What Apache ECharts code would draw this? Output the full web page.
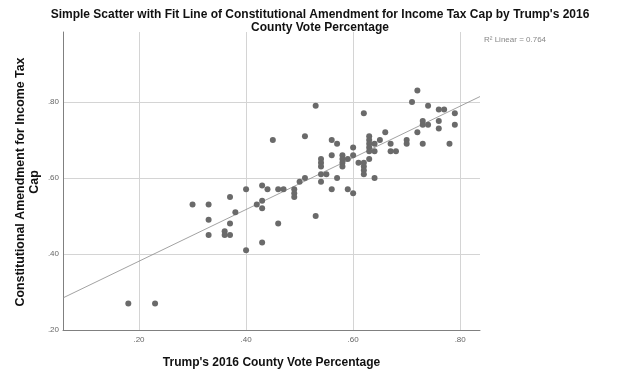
<!DOCTYPE html>
<html>
<head>
<meta charset="utf-8">
<script src="https://cdn.jsdelivr.net/npm/echarts@6/dist/echarts.min.js"></script>
<style>
  html, body { margin: 0; padding: 0; background: #fff; }
  #chart { width: 640px; height: 377px; }
</style>
</head>
<body>
<div id="chart"></div>
<script>
// county points: [trump vote share, amendment yes share]
const points = [
  [0.18, 0.27], [0.23, 0.27],
  [0.30, 0.53], [0.33, 0.53], [0.33, 0.49], [0.33, 0.45],
  [0.37, 0.55], [0.38, 0.51], [0.37, 0.48], [0.36, 0.46], [0.36, 0.45], [0.37, 0.45],
  [0.40, 0.57], [0.40, 0.41], [0.42, 0.53], [0.43, 0.58], [0.44, 0.57], [0.43, 0.54],
  [0.43, 0.52], [0.43, 0.43],
  [0.45, 0.70], [0.46, 0.57], [0.47, 0.57], [0.46, 0.48],
  [0.49, 0.57], [0.49, 0.56], [0.49, 0.55], [0.50, 0.59], [0.51, 0.60], [0.51, 0.71],
  [0.53, 0.79], [0.53, 0.50],
  [0.54, 0.65], [0.54, 0.64], [0.54, 0.63], [0.54, 0.61], [0.54, 0.59], [0.55, 0.61],
  [0.56, 0.70], [0.57, 0.69], [0.56, 0.66], [0.56, 0.57], [0.57, 0.60],
  [0.58, 0.66], [0.58, 0.65], [0.58, 0.64], [0.58, 0.63], [0.59, 0.65], [0.59, 0.57],
  [0.60, 0.68], [0.60, 0.66], [0.60, 0.56], [0.61, 0.64],
  [0.62, 0.77], [0.62, 0.64], [0.62, 0.63], [0.62, 0.62], [0.62, 0.61],
  [0.63, 0.71], [0.63, 0.70], [0.63, 0.69], [0.63, 0.68], [0.63, 0.67], [0.63, 0.65],
  [0.64, 0.69], [0.64, 0.67], [0.64, 0.60], [0.65, 0.70], [0.66, 0.72],
  [0.67, 0.69], [0.67, 0.67], [0.68, 0.67],
  [0.70, 0.70], [0.70, 0.69], [0.71, 0.80], [0.72, 0.83], [0.72, 0.72],
  [0.73, 0.75], [0.73, 0.74], [0.73, 0.69], [0.74, 0.79], [0.74, 0.74],
  [0.76, 0.78], [0.77, 0.78], [0.76, 0.75], [0.76, 0.73], [0.78, 0.69], [0.79, 0.77], [0.79, 0.74]
];

const xTicks = [0.2, 0.4, 0.6, 0.8];
const yTicks = [0.2, 0.4, 0.6, 0.8];
const xRange = [0.058, 0.837];
const yRange = [0.2, 0.984];

// linear fit
const fitIntercept = 0.245;
const fitSlope = 0.68;
const rSquared = "0.764";

const fitLine = xRange.map((x) => [x, fitIntercept + fitSlope * x]);

const fmt = (v) => v.toFixed(2).replace(/^0/, "");
const FONT = "Liberation Sans";

const chart = echarts.init(document.getElementById("chart"));

chart.setOption({
  animation: false,
  title: {
    text: "Simple Scatter with Fit Line of Constitutional Amendment for Income Tax Cap by Trump's 2016\nCounty Vote Percentage",
    left: "center",
    top: 3,
    textStyle: { fontFamily: FONT, fontWeight: "bold", fontSize: 12, lineHeight: 13, color: "#111" },
  },
  graphic: [
    {
      type: "text",
      left: 484,
      top: 36,
      style: { text: "R\u00b2 Linear = " + rSquared, fontFamily: FONT, fontSize: 8, fill: "#888" },
    },
    {
      // y axis title, drawn by hand so it can sit closer to the labels
      type: "text",
      x: 28,
      y: 182,
      rotation: Math.PI / 2,
      style: {
        text: "Constitutional Amendment for Income Tax\nCap",
        align: "center",
        verticalAlign: "middle",
        fontFamily: FONT,
        fontWeight: "bold",
        fontSize: 12.4,
        lineHeight: 14,
        fill: "#111",
      },
    },
  ],
  grid: { left: 63, right: 160, top: 32, bottom: 47, containLabel: false },
  xAxis: {
    type: "value",
    min: xRange[0],
    max: xRange[1],
    name: "Trump's 2016 County Vote Percentage",
    nameLocation: "middle",
    nameGap: 27,
    nameTextStyle: { fontFamily: FONT, fontWeight: "bold", fontSize: 12, color: "#111" },
    axisLine: { show: true, lineStyle: { color: "#808080", width: 1 } },
    axisTick: { show: false, customValues: xTicks },
    axisLabel: {
      customValues: xTicks,
      formatter: fmt,
      fontFamily: FONT,
      fontSize: 8,
      color: "#666",
      margin: 6,
    },
    splitLine: { show: true, lineStyle: { color: "#d4d4d4", width: 1 } },
  },
  yAxis: {
    type: "value",
    min: yRange[0],
    max: yRange[1],
    axisLine: { show: true, lineStyle: { color: "#808080", width: 1 } },
    axisTick: { show: false, customValues: yTicks },
    axisLabel: {
      customValues: yTicks,
      formatter: fmt,
      fontFamily: FONT,
      fontSize: 8,
      color: "#666",
      margin: 4,
    },
    splitLine: { show: true, lineStyle: { color: "#d4d4d4", width: 1 } },
  },
  series: [
    {
      type: "scatter",
      data: points,
      symbolSize: 6,
      itemStyle: { color: "#6a6a6a", opacity: 1 },
      z: 3,
    },
    {
      type: "line",
      data: fitLine,
      symbol: "none",
      lineStyle: { color: "#8a8a8a", width: 0.8 },
      z: 2,
    },
  ],
});
</script>
</body>
</html>
